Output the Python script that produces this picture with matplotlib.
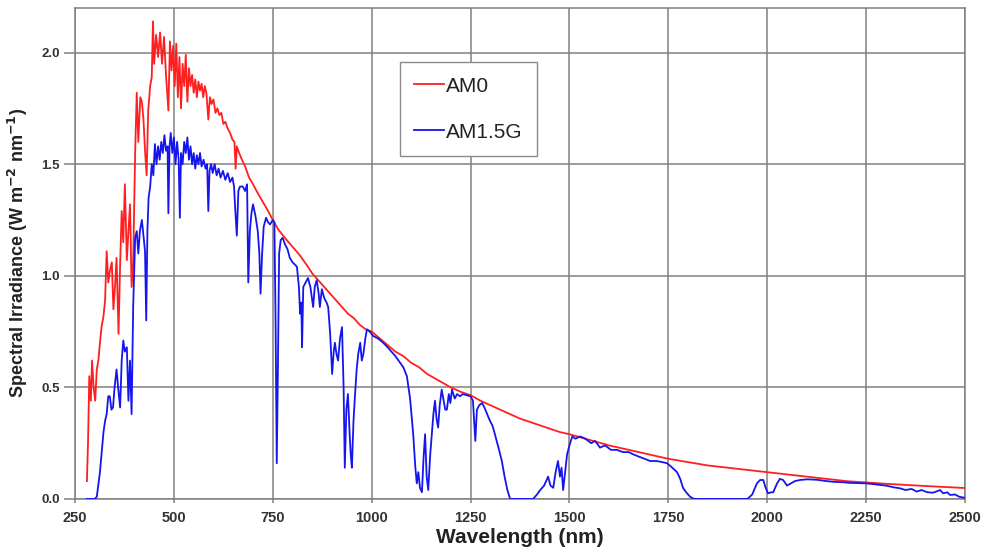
import matplotlib
matplotlib.use("Agg")
import matplotlib.pyplot as plt

plt.rcParams['font.family'] = ['Liberation Sans', 'DejaVu Sans']

# AM0 (extraterrestrial) spectrum: wavelength (nm), irradiance (W m-2 nm-1)
am0_wl = [280, 283, 286, 290, 293, 297, 301, 305, 309, 313, 317, 322, 326, 330, 334, 338,
          343, 347, 351, 355, 360, 364, 368, 372, 376, 381, 385, 389, 393, 397, 402, 406,
          410, 415, 419, 423, 427, 431, 435, 440, 444, 447, 450, 455, 460, 465, 470, 475,
          480, 486, 490, 494, 498, 502, 506, 510, 514, 518, 522, 526, 530, 534, 538, 542,
          546, 550, 554, 558, 562, 566, 570, 574, 578, 582, 587, 591, 595, 600, 605, 610,
          615, 620, 625, 630, 636, 642, 648, 653, 656, 659, 665, 672, 680, 690, 700, 712,
          725, 735, 750, 763, 776, 790, 805, 819, 835, 850, 865, 880, 895, 910, 925, 940,
          955, 970, 985, 1000, 1020, 1040, 1060, 1080, 1100, 1120, 1140, 1160, 1180, 1200,
          1225, 1250, 1275, 1300, 1325, 1350, 1375, 1400, 1425, 1450, 1475, 1500, 1550,
          1600, 1650, 1700, 1750, 1800, 1850, 1900, 1950, 2000, 2100, 2200, 2300, 2400, 2500]
am0_val = [0.08, 0.26, 0.55, 0.44, 0.62, 0.50, 0.44, 0.58, 0.62, 0.70, 0.77, 0.82, 0.89, 1.11, 0.97, 1.02,
           1.06, 0.85, 0.95, 1.08, 0.74, 1.05, 1.29, 1.15, 1.41, 1.07, 1.20, 1.32, 0.95, 1.06, 1.55, 1.82,
           1.60, 1.80, 1.78, 1.70, 1.56, 1.45, 1.74, 1.85, 1.89, 2.14, 1.95, 2.08, 1.98, 2.09, 1.95, 2.07,
           1.90, 1.74, 2.05, 1.92, 2.03, 1.85, 2.04, 1.80, 1.98, 1.75, 1.95, 1.85, 1.99, 1.78, 1.93, 1.85,
           1.90, 1.82, 1.88, 1.80, 1.87, 1.83, 1.86, 1.80, 1.85, 1.82, 1.70, 1.80, 1.77, 1.79, 1.73, 1.75,
           1.72, 1.73, 1.68, 1.69, 1.66, 1.64, 1.61, 1.60, 1.48, 1.58, 1.55, 1.52, 1.49, 1.44, 1.41, 1.37,
           1.33, 1.30, 1.25, 1.21, 1.18, 1.15, 1.12, 1.09, 1.05, 1.01, 0.98, 0.95, 0.92, 0.89, 0.86, 0.83,
           0.81, 0.78, 0.76, 0.75, 0.72, 0.69, 0.66, 0.64, 0.61, 0.59, 0.56, 0.54, 0.52, 0.50,
           0.48, 0.465, 0.44, 0.42, 0.40, 0.38, 0.36, 0.345, 0.33, 0.315, 0.30, 0.29, 0.265,
           0.24, 0.22, 0.20, 0.18, 0.165, 0.15, 0.14, 0.13, 0.12, 0.10, 0.08, 0.068, 0.058, 0.049]

# AM1.5G (global tilt) spectrum
am15_wl = [280, 295, 300, 305, 310, 313, 318, 322, 326, 330, 334, 338, 342, 346, 350, 355,
           359, 364, 368, 372, 376, 381, 385, 389, 393, 397, 402, 406, 410, 414, 419, 423,
           427, 430, 433, 436, 440, 444, 448, 452, 456, 460, 464, 468, 472, 476, 480, 484,
           486, 489, 492, 496, 500, 504, 508, 512, 515, 518, 522, 526, 530, 534, 538, 542,
           546, 550, 554, 558, 562, 566, 570, 575, 580, 584, 587, 590, 594, 598, 603, 608,
           613, 618, 624, 630, 636, 642, 648, 652, 655, 659, 663, 667, 674, 680, 685, 688,
           692, 696, 700, 706, 712, 716, 719, 723, 727, 733, 738, 743, 750, 754, 757, 760,
           763, 766, 770, 775, 781, 787, 793, 800, 806, 811, 816, 819, 822, 824, 827, 833,
           839, 845, 852, 856, 861, 866, 869, 874, 880, 886, 890, 895, 900, 904, 907, 911,
           915, 920, 925, 929, 932, 936, 940, 944, 947, 950, 954, 958, 962, 966, 971, 975,
           979, 984, 988, 995, 1004, 1015, 1029, 1040, 1050, 1060, 1072, 1080, 1089, 1097,
           1105, 1110, 1114, 1118, 1122, 1127, 1131, 1135, 1139, 1143, 1148, 1152, 1156,
           1160, 1164, 1168, 1172, 1177, 1182, 1186, 1190, 1195, 1199, 1203, 1210, 1216,
           1223, 1230, 1240, 1250, 1256, 1262, 1266, 1272, 1279, 1285, 1292, 1299, 1305,
           1310, 1316, 1322, 1329, 1336, 1343, 1350, 1408, 1418, 1426, 1436, 1446, 1452,
           1459, 1465, 1471, 1476, 1480, 1484, 1489, 1494, 1500, 1507, 1515, 1527, 1540,
           1555, 1565, 1577, 1590, 1605, 1620, 1635, 1650, 1661, 1675, 1690, 1704, 1720,
           1735, 1747, 1760, 1772, 1780, 1787, 1795, 1805, 1815, 1950, 1962, 1974, 1982,
           1990, 1996, 2002, 2010, 2015, 2025, 2032, 2040, 2050, 2060, 2070, 2083, 2100,
           2125, 2150, 2166, 2190, 2210, 2250, 2275, 2300, 2320, 2335, 2350, 2365, 2378,
           2390, 2405, 2419, 2430, 2437, 2445, 2455, 2462, 2475, 2485, 2500]
am15_val = [0.0, 0.0, 0.0, 0.01, 0.08, 0.12, 0.22, 0.30, 0.35, 0.38, 0.46, 0.46, 0.40, 0.41, 0.50, 0.58,
            0.50, 0.41, 0.62, 0.71, 0.66, 0.68, 0.44, 0.62, 0.38, 0.86, 1.17, 1.20, 1.10, 1.20, 1.25, 1.18,
            1.11, 0.80, 1.20, 1.35, 1.40, 1.50, 1.45, 1.59, 1.50, 1.58, 1.52, 1.60, 1.55, 1.63, 1.56, 1.58,
            1.28, 1.58, 1.64, 1.55, 1.62, 1.50, 1.60, 1.52, 1.26, 1.55, 1.50, 1.60, 1.55, 1.62, 1.52, 1.58,
            1.50, 1.55, 1.48, 1.54, 1.50, 1.55, 1.49, 1.52, 1.48, 1.50, 1.29, 1.47, 1.50, 1.46, 1.50, 1.45,
            1.48, 1.44, 1.47, 1.43, 1.46, 1.42, 1.44, 1.40, 1.30, 1.18, 1.38, 1.40, 1.40, 1.38, 1.41, 0.97,
            1.20, 1.28, 1.32, 1.27, 1.20, 1.10, 0.92, 1.10, 1.22, 1.26, 1.24, 1.23, 1.25, 1.24, 0.80, 0.16,
            0.60, 1.10, 1.16, 1.17, 1.14, 1.12, 1.08, 1.06, 1.05, 1.04, 0.95, 0.83, 0.88, 0.68, 0.95, 0.97,
            0.99, 0.95, 0.86, 0.95, 0.98, 0.92, 0.86, 0.94, 0.90, 0.88, 0.86, 0.74, 0.56, 0.66, 0.70, 0.65,
            0.62, 0.72, 0.77, 0.50, 0.14, 0.40, 0.47, 0.30, 0.20, 0.14, 0.35, 0.47, 0.58, 0.65, 0.70, 0.62,
            0.65, 0.72, 0.76, 0.75, 0.73, 0.72, 0.70, 0.68, 0.66, 0.64, 0.61, 0.59, 0.55, 0.45,
            0.29, 0.15, 0.07, 0.12, 0.05, 0.03, 0.18, 0.29, 0.10, 0.04, 0.20, 0.29, 0.38,
            0.44, 0.36, 0.32, 0.42, 0.49, 0.44, 0.40, 0.40, 0.47, 0.43, 0.49, 0.45, 0.47,
            0.46, 0.47, 0.465, 0.46, 0.44, 0.26, 0.40, 0.42, 0.43, 0.41, 0.38, 0.35, 0.33,
            0.30, 0.26, 0.22, 0.17, 0.10, 0.04, 0.0, 0.0, 0.02, 0.04, 0.06, 0.10, 0.06,
            0.05, 0.12, 0.17, 0.10, 0.14, 0.04, 0.12, 0.20, 0.24, 0.28, 0.27, 0.28, 0.27,
            0.25, 0.26, 0.23, 0.24, 0.22, 0.22, 0.21, 0.21, 0.20, 0.19, 0.18, 0.17, 0.17,
            0.165, 0.16, 0.14, 0.12, 0.09, 0.05, 0.03, 0.01, 0.0, 0.0, 0.02, 0.07, 0.085,
            0.085, 0.05, 0.025, 0.03, 0.03, 0.07, 0.09, 0.085, 0.06, 0.07, 0.08, 0.085, 0.088,
            0.086, 0.08, 0.077, 0.075, 0.072, 0.07, 0.065, 0.06, 0.052, 0.048, 0.04, 0.045, 0.033,
            0.04, 0.03, 0.028, 0.035, 0.04, 0.025, 0.03, 0.018, 0.02, 0.01, 0.005]

x_ticks = [250, 500, 750, 1000, 1250, 1500, 1750, 2000, 2250, 2500]
y_ticks = [0.0, 0.5, 1.0, 1.5, 2.0]

fig = plt.figure(figsize=(9.82, 5.6), dpi=100)
ax = fig.add_axes([0.0764, 0.109, 0.9063, 0.8768])

ax.plot(am0_wl, am0_val, color='#ff1f1f', lw=1.3, label='AM0', zorder=3)
ax.plot(am15_wl, am15_val, color='#1515ee', lw=1.3, label='AM1.5G', zorder=4)

ax.set_xlim(250, 2500)
ax.set_ylim(0, 2.2)
ax.set_xticks(x_ticks)
ax.set_xticklabels([str(v) for v in x_ticks])
ax.set_yticks(y_ticks)
ax.set_yticklabels([f"{v:.1f}" for v in y_ticks])

ax.grid(True, color='#808080', lw=1.1)
ax.set_axisbelow(True)
for s in ax.spines.values():
    s.set_color('#808080')
    s.set_linewidth(1.1)

ax.tick_params(axis='y', length=8, width=1.1, color='#808080', pad=3,
               labelsize=9.5, labelcolor='#333333')
ax.tick_params(axis='x', length=3, width=1.1, color='#808080', pad=6,
               labelsize=10.5, labelcolor='#333333')
for lbl in ax.get_xticklabels() + ax.get_yticklabels():
    lbl.set_fontweight('bold')

ax.set_xlabel('Wavelength (nm)', fontsize=15, fontweight='bold', color='#222222', labelpad=2)
ax.set_ylabel('Spectral Irradiance (W m$^{\\mathbf{-2}}$ nm$^{\\mathbf{-1}}$)', fontsize=13,
              fontweight='bold', color='#222222', labelpad=8)

leg = ax.legend(loc='upper left', bbox_to_anchor=(0.365, 0.89), fontsize=15,
                frameon=True, fancybox=False, edgecolor='#8a8a8a', framealpha=1,
                handlelength=1.4, handletextpad=0.1, labelspacing=1.3,
                borderpad=0.7, borderaxespad=0)
leg.get_frame().set_linewidth(1.0)
for t in leg.get_texts():
    t.set_color('#222222')

fig.savefig('out.png', dpi=100)
